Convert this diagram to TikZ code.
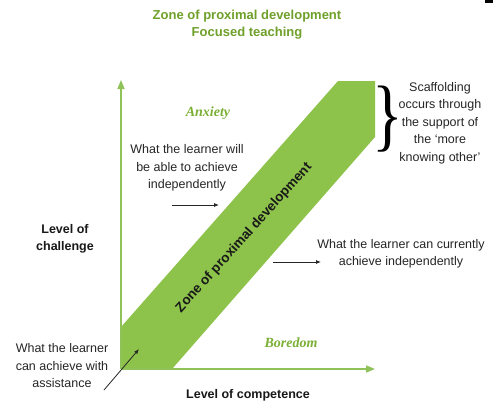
\documentclass[tikz,border=0pt]{standalone}
\usepackage{fontspec}
\setmainfont{Liberation Sans}
\newfontfamily\seriffam{Liberation Serif}
\usetikzlibrary{arrows.meta}
\definecolor{bandgreen}{HTML}{8DC24B}
\definecolor{axisgreen}{HTML}{8FC35A}
\definecolor{titlegreen}{HTML}{6FA02A}
\definecolor{labgreen}{HTML}{7BAF35}
\tikzset{
  txt/.style={font=\fontsize{12.5}{17.5}\selectfont, align=center, inner sep=0pt, text=black!85},
  boldtxt/.style={font=\bfseries\fontsize{12.5}{17}\selectfont, align=center, inner sep=0pt, text=black!90},
  titletxt/.style={font=\bfseries\fontsize{13}{17}\selectfont, align=center, inner sep=0pt, text=titlegreen},
  zonetxt/.style={font=\seriffam\bfseries\itshape\fontsize{14}{16}\selectfont, inner sep=0pt, text=labgreen},
  axisline/.style={draw=axisgreen, line width=1.6pt, -{Triangle[length=9pt,width=7pt]}},
  ptr/.style={draw=black!85, line width=0.8pt, -{Latex[length=5pt,width=4pt]}}
}
\begin{document}
\begin{tikzpicture}[x=1pt,y=-1pt]
\useasboundingbox (0,0) rectangle (493,407);
\fill[white] (0,0) rectangle (493,407);
\fill[black] (485,0) rectangle (493,3);
% band
\fill[bandgreen] (121,369) -- (121,327) -- (338,81) -- (375,81) -- (375,137) -- (172,369) -- cycle;
% axes
\coordinate (O) at (121,369);
\coordinate (ytip) at (121,80);
\coordinate (xtip) at (375,369);
\draw[axisline] (O) -- (ytip);
\draw[axisline] (O) -- (xtip);
% title
\node[titletxt] (title) at (247,25) {Zone of proximal development\\Focused teaching};
% zone labels
\node[zonetxt] (anx) at (208,113) {Anxiety};
\node[zonetxt] (bor) at (291,343) {Boredom};
% band label
\node[boldtxt, font=\bfseries\fontsize{13.5}{17}\selectfont, rotate=48] (zpd) at (244,238) {Zone of proximal development};
% texts
\node[txt] (will) at (187,168) {What the learner will\\be able to achieve\\independently};
\coordinate (a1s) at (172,205);
\coordinate (a1e) at (219,205);
\draw[ptr] (a1s) -- (a1e);
\node[txt] (curr) at (401,254) {What the learner can currently\\achieve independently};
\coordinate (a2s) at (273,262);
\coordinate (a2e) at (321,262);
\draw[ptr] (a2s) -- (a2e);
\node[txt] (assist) at (62,366) {What the learner\\can achieve with\\assistance};
\coordinate (a3s) at (104,390);
\coordinate (a3e) at (139,349);
\draw[ptr] (a3s) -- (a3e);
\node[txt] (scaf) at (440,123) {Scaffolding\\occurs through\\the support of\\the `more\\knowing other'};
\node[inner sep=0pt, font=\seriffam\fontsize{80}{80}\selectfont, text=black, xscale=0.8] (brace) at (388,119) {\}};
% axis labels
\node[boldtxt] (chal) at (65,239) {Level of\\challenge};
\node[boldtxt] (comp) at (248,395) {Level of competence};
\end{tikzpicture}
\end{document}
